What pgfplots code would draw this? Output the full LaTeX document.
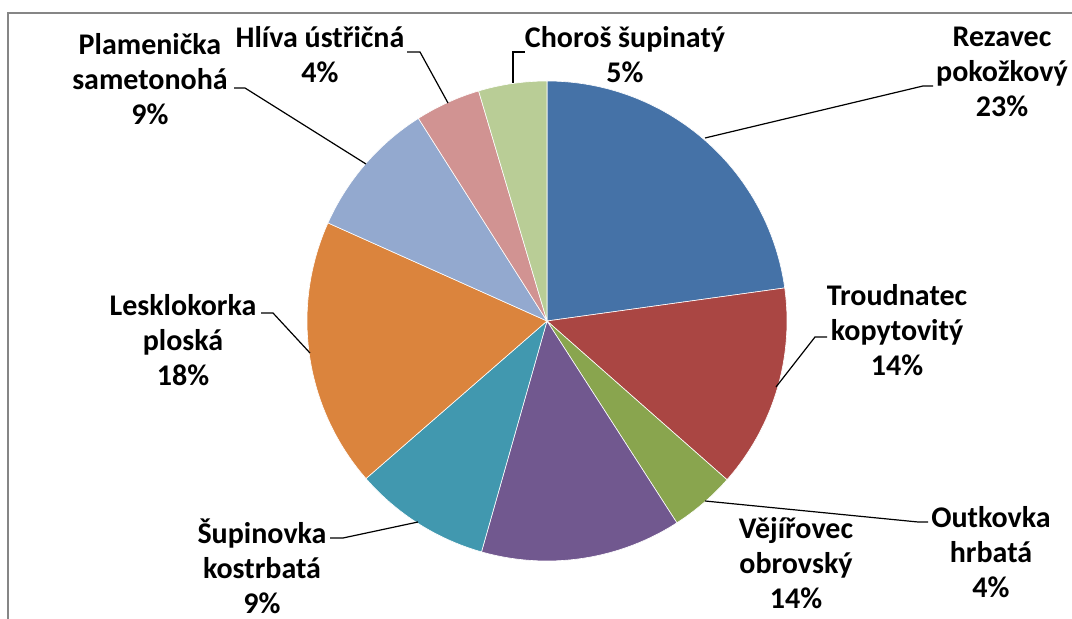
\documentclass[border=0pt]{standalone}
\usepackage{pgfplots}
\pgfplotsset{compat=1.18}
\usepackage{fontspec}
\setmainfont{Carlito}
\definecolor{c1}{HTML}{4572A7}
\definecolor{c2}{HTML}{AA4643}
\definecolor{c3}{HTML}{89A54E}
\definecolor{c4}{HTML}{71588F}
\definecolor{c5}{HTML}{4198AF}
\definecolor{c6}{HTML}{DB843D}
\definecolor{c7}{HTML}{93A9CF}
\definecolor{c8}{HTML}{D19392}
\definecolor{c9}{HTML}{B9CD96}
\definecolor{frame}{HTML}{868686}
\tikzset{lbl/.style={font=\fontsize{15}{17.5}\selectfont\bfseries, align=center, inner sep=0pt}}
\gdef\curang{90}
\newcommand\slice[2]{%
  \pgfmathsetmacro\sA{\curang}%
  \pgfmathsetmacro\sB{\curang-#2*3.6}%
  \addplot[fill=#1, draw=white, line width=0.3pt, domain=\sB:\sA, samples=80, variable=\t]
    ({547+240*cos(\t)},{321-240*sin(\t)}) -- (axis cs:547,321) -- cycle;
  \global\let\curang\sB
}
\begin{document}
\begin{tikzpicture}
\begin{axis}[at={(0,0)}, anchor=south west, width=536pt, height=309.5pt,
  scale only axis, hide axis, xmin=0, xmax=1072, ymin=0, ymax=619,
  y dir=reverse, clip=false]
\draw[frame, line width=0.8pt] (axis cs:8,619) -- (axis cs:8,13) -- (axis cs:1072,13);
% values in percent, clockwise from 12 o'clock
\slice{c1}{22.8}
\slice{c2}{13.7}
\slice{c3}{4.4}
\slice{c4}{13.5}
\slice{c5}{9.2}
\slice{c6}{18.1}
\slice{c7}{9.3}
\slice{c8}{4.4}
\slice{c9}{4.6}
% leader lines
\draw[black, line width=0.6pt] (axis cs:705,138) -- (axis cs:923,86) -- (axis cs:933,86);
\draw[black, line width=0.6pt] (axis cs:776,387) -- (axis cs:815,337) -- (axis cs:827,337);
\draw[black, line width=0.6pt] (axis cs:705,501) -- (axis cs:918,522) -- (axis cs:928,522);
\draw[black, line width=0.6pt] (axis cs:418,522) -- (axis cs:343,538) -- (axis cs:330,538);
\draw[black, line width=0.6pt] (axis cs:310,353) -- (axis cs:273,313) -- (axis cs:261,313);
\draw[black, line width=0.6pt] (axis cs:366,164) -- (axis cs:245,88) -- (axis cs:234,88);
\draw[black, line width=0.6pt] (axis cs:448,103) -- (axis cs:420,52) -- (axis cs:407,52);
\draw[black, line width=0.6pt] (axis cs:513,83) -- (axis cs:513,52) -- (axis cs:525,52);
% labels
\node[lbl] at (axis cs:1002,72) {Rezavec\\pokožkový\\23\%};
\node[lbl] at (axis cs:897,330) {Troudnatec\\kopytovitý\\14\%};
\node[lbl] at (axis cs:991,552) {Outkovka\\hrbatá\\4\%};
\node[lbl] at (axis cs:796,563) {Vějířovec\\obrovský\\14\%};
\node[lbl] at (axis cs:262,566) {Šupinovka\\kostrbatá\\9\%};
\node[lbl] at (axis cs:183,340) {Lesklokorka\\ploská\\18\%};
\node[lbl] at (axis cs:150,79) {Plamenička\\sametonohá\\9\%};
\node[lbl] at (axis cs:320,55) {Hlíva ústřičná\\4\%};
\node[lbl] at (axis cs:625,55) {Choroš šupinatý\\5\%};
\end{axis}
\pgfresetboundingbox
\path (0,0) rectangle (536pt,309.5pt);
\end{tikzpicture}
\end{document}
